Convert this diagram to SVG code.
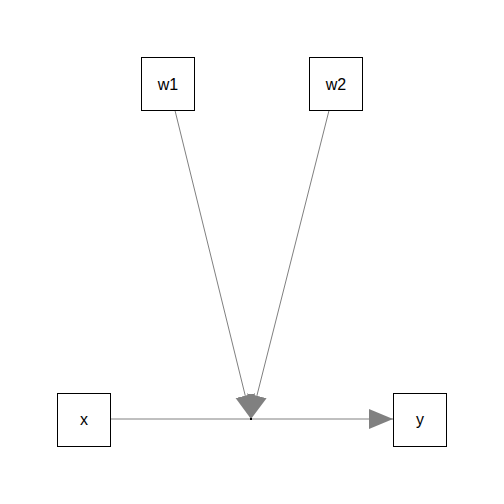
<svg xmlns="http://www.w3.org/2000/svg" width="504" height="504" viewBox="0 0 504 504">
<style>
.box{fill:#fff;stroke:#000;stroke-width:1}
.lbl{font-family:"Liberation Sans",Arial,sans-serif;font-size:16px;fill:#000;text-anchor:middle}
.edge{stroke:#808080;stroke-width:1;fill:none}
</style>
<defs>
<marker id="ah" markerUnits="userSpaceOnUse" markerWidth="26" markerHeight="22" viewBox="0 -11 26 22" refX="24" refY="0" orient="auto">
<path d="M0,-10 L24,0 L0,10 z" fill="#808080"/>
</marker>
</defs>
<rect width="504" height="504" fill="#fff"/>
<g id="connectors">
<line class="edge" x1="110.5" y1="419" x2="393" y2="419" marker-end="url(#ah)"/>
<line class="edge" x1="175" y1="110.5" x2="251" y2="419" marker-end="url(#ah)"/>
<line class="edge" x1="329" y1="110.5" x2="251" y2="419" marker-end="url(#ah)"/>
<rect x="250" y="418" width="2" height="2" fill="#000"/>
</g>
<g id="w1">
<rect class="box" x="141.5" y="57.5" width="53" height="53"/>
<text class="lbl" x="168" y="90">w1</text>
</g>
<g id="w2">
<rect class="box" x="309.5" y="57.5" width="53" height="53"/>
<text class="lbl" x="336" y="90">w2</text>
</g>
<g id="x">
<rect class="box" x="57.5" y="393.5" width="53" height="53"/>
<text class="lbl" x="84" y="425">x</text>
</g>
<g id="y">
<rect class="box" x="393.5" y="393.5" width="53" height="53"/>
<text class="lbl" x="420" y="425">y</text>
</g>
</svg>
